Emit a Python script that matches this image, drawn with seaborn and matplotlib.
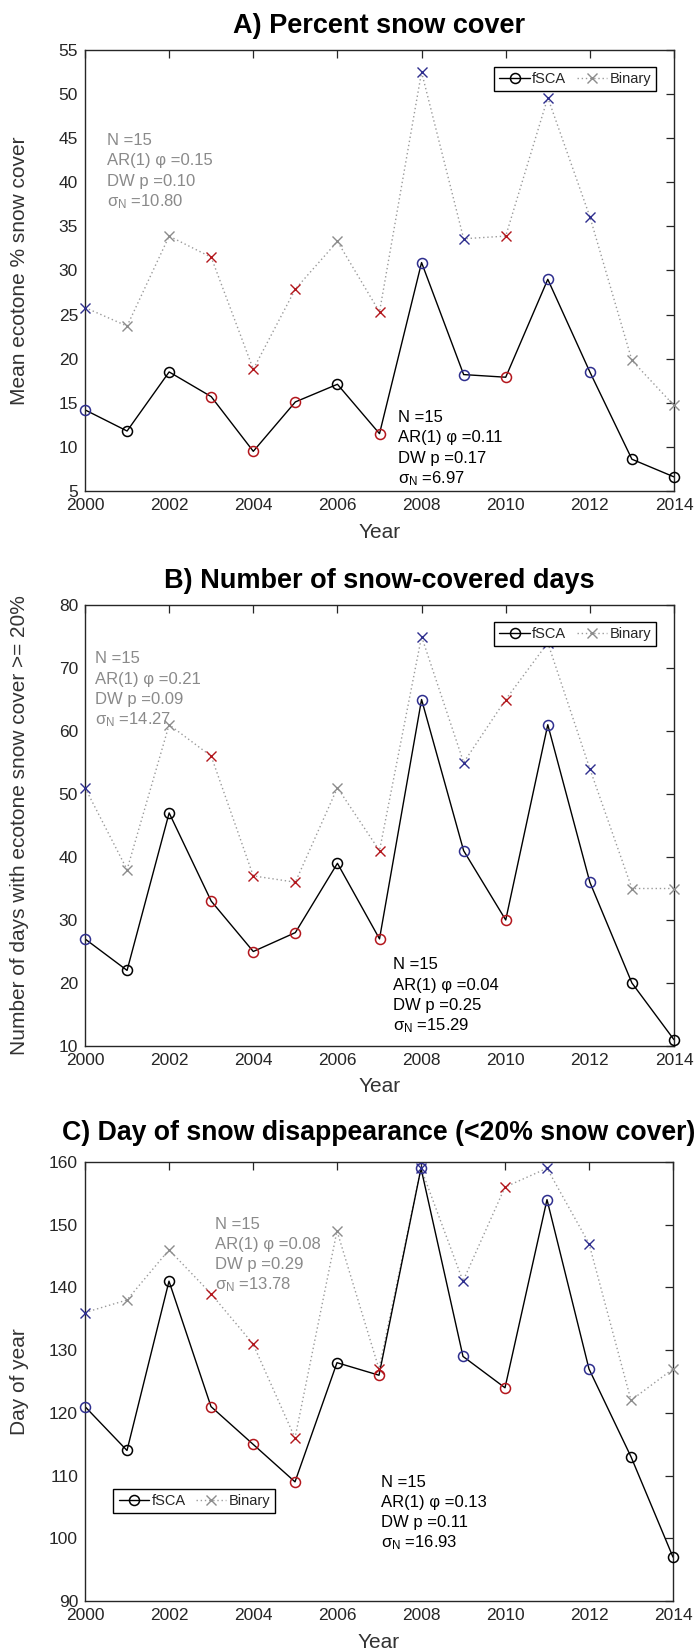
import matplotlib
matplotlib.use("Agg")
import matplotlib.pyplot as plt
import seaborn as sns
import numpy as np
import pandas as pd
from matplotlib.lines import Line2D
from matplotlib.transforms import offset_copy

# ---- data -------------------------------------------------------------
years = list(range(2000, 2015))
enso_phase = ["La Nina", "Neutral", "Neutral", "El Nino", "El Nino", "El Nino",
              "Neutral", "El Nino", "La Nina", "La Nina", "El Nino", "La Nina",
              "La Nina", "Neutral", "Neutral"]

snow_cover_fsca = [14.2, 11.8, 18.5, 15.7, 9.5, 15.1, 17.1, 11.5, 30.9, 18.2,
                   17.9, 29.0, 18.5, 8.6, 6.6]
snow_cover_binary = [25.8, 23.7, 33.9, 31.5, 18.8, 27.9, 33.3, 25.3, 52.5, 33.6,
                     33.9, 49.6, 36.1, 19.8, 14.7]
snow_days_fsca = [27, 22, 47, 33, 25, 28, 39, 27, 65, 41, 30, 61, 36, 20, 11]
snow_days_binary = [51, 38, 61, 56, 37, 36, 51, 41, 75, 55, 65, 74, 54, 35, 35]
melt_doy_fsca = [121, 114, 141, 121, 115, 109, 128, 126, 159, 129, 124, 154,
                 127, 113, 97]
melt_doy_binary = [136, 138, 146, 139, 131, 116, 149, 127, 159, 141, 156, 159,
                   147, 122, 127]

# N, AR(1) phi, Durbin-Watson p, sigma_N
stats_cover_binary = ["15", "0.15", "0.10", "10.80"]
stats_cover_fsca = ["15", "0.11", "0.17", "6.97"]
stats_days_binary = ["15", "0.21", "0.09", "14.27"]
stats_days_fsca = ["15", "0.04", "0.25", "15.29"]
stats_melt_binary = ["15", "0.08", "0.29", "13.78"]
stats_melt_fsca = ["15", "0.13", "0.11", "16.93"]

titles = ["A) Percent snow cover",
          "B) Number of snow-covered days",
          "C) Day of snow disappearance (<20% snow cover)"]
ylabels = ["Mean ecotone % snow cover",
           "Number of days with ecotone snow cover >= 20%",
           "Day of year"]
xticks = [2000, 2002, 2004, 2006, 2008, 2010, 2012, 2014]
yticks_cover = [5, 10, 15, 20, 25, 30, 35, 40, 45, 50, 55]
yticks_days = [10, 20, 30, 40, 50, 60, 70, 80]
yticks_melt = [90, 100, 110, 120, 130, 140, 150, 160]

# ---- style ------------------------------------------------------------
sns.set_style("white")
plt.rcParams["font.family"] = ["Liberation Sans", "DejaVu Sans"]
plt.rcParams["mathtext.default"] = "regular"

INK = "#262626"
LABEL = "#333333"
BLUE = "#2e2e8e"
RED = "#b3161c"
GREY_LINE = "#9a9a9a"
GREY_TEXT = "#8a8a8a"
phase_fsca = {"La Nina": BLUE, "El Nino": RED, "Neutral": "black"}
phase_binary = {"La Nina": BLUE, "El Nino": RED, "Neutral": "#8c8c8c"}

W, H = 698, 1650
fig = plt.figure(figsize=(W / 100, H / 100), dpi=100)

# axes boxes in pixels: (left, top, right, bottom)
boxes = [(85, 50, 674, 491), (85, 605, 674, 1046), (85, 1162, 673, 1601)]


def make_axes(box):
    l, t, r, b = box
    return fig.add_axes([l / W, 1 - b / H, (r - l) / W, (b - t) / H])


def stats_block(ax, x, y, vals, color):
    lines = [f"N ={vals[0]}", f"AR(1) \u03c6 ={vals[1]}",
             f"DW p ={vals[2]}", f"$\\sigma_N$ ={vals[3]}"]
    for i, s in enumerate(lines):
        tr = offset_copy(ax.transData, fig=fig, x=0, y=-(i * 20.3 + 6),
                         units="dots")
        ax.text(x, y, s, transform=tr, color=color, fontsize=12,
                ha="left", va="baseline")


def draw_panel(ax, fsca, binary, title, title_size, ylabel, yticks, st_bin,
               st_fsca, pos_bin, pos_fsca, legend_kw, title_pad):
    df = pd.DataFrame({"year": years, "fsca": fsca, "binary": binary,
                       "phase": enso_phase})
    sns.lineplot(data=df, x="year", y="binary", ax=ax, color=GREY_LINE,
                 lw=1.0, linestyle=(0, (1, 2)), estimator=None)
    sns.lineplot(data=df, x="year", y="fsca", ax=ax, color="black",
                 lw=1.0, estimator=None)
    for ph in ["Neutral", "El Nino", "La Nina"]:
        sub = df[df["phase"] == ph]
        ax.plot(sub["year"], sub["binary"], linestyle="none", marker="x",
                ms=6.5, mew=1.0, color=phase_binary[ph], clip_on=False,
                zorder=4)
        ax.plot(sub["year"], sub["fsca"], linestyle="none", marker="o",
                ms=7.2, mew=1.1, mfc="none", mec=phase_fsca[ph],
                clip_on=False, zorder=5)

    ax.set_xlim(2000, 2014)
    ax.set_ylim(yticks[0], yticks[-1])
    ax.set_xticks(xticks)
    ax.set_yticks(yticks)
    ax.tick_params(direction="in", length=6, width=0.9, top=True, right=True,
                   labelsize=12.5, color=INK, labelcolor=INK, pad=5)
    for sp in ax.spines.values():
        sp.set_visible(True)
        sp.set_color(INK)
        sp.set_linewidth(1.0)

    ax.set_xlabel("Year", fontsize=15, color=LABEL)
    ax.set_ylabel(ylabel, fontsize=15, color=LABEL)
    h_px = (ax.get_position().height * H)
    w_px = (ax.get_position().width * W)
    ax.xaxis.set_label_coords(0.5, -41 / h_px)
    ax.xaxis.label.set_va("center")
    ax.yaxis.set_label_coords(-65 / w_px, 0.5)
    ax.yaxis.label.set_va("center")

    ax.set_title(title, fontsize=title_size, fontweight="bold",
                 pad=title_pad, color="black")

    stats_block(ax, pos_bin[0], pos_bin[1], st_bin, GREY_TEXT)
    stats_block(ax, pos_fsca[0], pos_fsca[1], st_fsca, "black")

    handles = [
        Line2D([], [], color="black", lw=1.0, marker="o", ms=7.2, mfc="none",
               mec="black", mew=1.1),
        Line2D([], [], color=GREY_LINE, lw=1.0, linestyle=(0, (1, 2)),
               marker="x", ms=6.5, mew=1.0, mec="#8c8c8c"),
    ]
    leg = ax.legend(handles, ["fSCA", "Binary"], ncol=2, fontsize=10.5,
                    frameon=True, fancybox=False, framealpha=1,
                    edgecolor="black", handlelength=2.1, handletextpad=0.15,
                    columnspacing=0.7, borderpad=0.35, **legend_kw)
    leg.get_frame().set_linewidth(1.0)


ax_a = make_axes(boxes[0])
draw_panel(ax_a, snow_cover_fsca, snow_cover_binary, titles[0], 19.5,
           ylabels[0], yticks_cover, stats_cover_binary, stats_cover_fsca,
           (2000.53, 44.9), (2007.43, 13.5),
           dict(loc="upper right", bbox_to_anchor=(0.982, 0.978)), 12.5)

ax_b = make_axes(boxes[1])
draw_panel(ax_b, snow_days_fsca, snow_days_binary, titles[1], 19.5,
           ylabels[1], yticks_days, stats_days_binary, stats_days_fsca,
           (2000.24, 71.7), (2007.32, 23.1),
           dict(loc="upper right", bbox_to_anchor=(0.982, 0.978)), 12.5)

ax_c = make_axes(boxes[2])
draw_panel(ax_c, melt_doy_fsca, melt_doy_binary, titles[2], 19.2,
           ylabels[2], yticks_melt, stats_melt_binary, stats_melt_fsca,
           (2003.09, 150.3), (2007.05, 109.2),
           dict(loc="lower left", bbox_to_anchor=(0.036, 0.184)), 16)

fig.savefig("out.png", dpi=100)
